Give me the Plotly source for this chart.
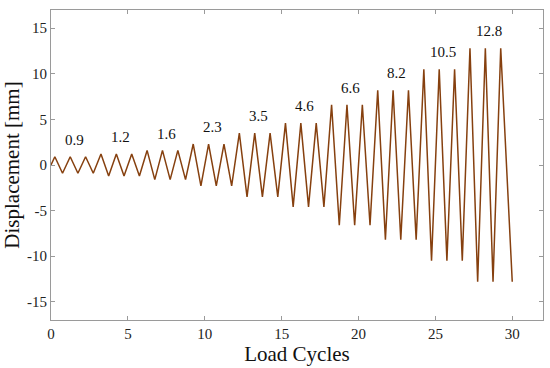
import plotly.graph_objects as go

# Loading protocol: displacement amplitude per group of 3 cycles
amplitudes = [0.9, 1.2, 1.6, 2.3, 3.5, 4.6, 6.6, 8.2, 10.5, 12.8]
label_text = ["0.9", "1.2", "1.6", "2.3", "3.5", "4.6", "6.6", "8.2", "10.5", "12.8"]

cycle_x = [0,
           0.25, 0.75, 1.25, 1.75, 2.25, 2.75,
           3.25, 3.75, 4.25, 4.75, 5.25, 5.75,
           6.25, 6.75, 7.25, 7.75, 8.25, 8.75,
           9.25, 9.75, 10.25, 10.75, 11.25, 11.75,
           12.25, 12.75, 13.25, 13.75, 14.25, 14.75,
           15.25, 15.75, 16.25, 16.75, 17.25, 17.75,
           18.25, 18.75, 19.25, 19.75, 20.25, 20.75,
           21.25, 21.75, 22.25, 22.75, 23.25, 23.75,
           24.25, 24.75, 25.25, 25.75, 26.25, 26.75,
           27.25, 27.75, 28.25, 28.75, 29.25, 30]
displacement = [0,
                0.9, -0.9, 0.9, -0.9, 0.9, -0.9,
                1.2, -1.2, 1.2, -1.2, 1.2, -1.2,
                1.6, -1.6, 1.6, -1.6, 1.6, -1.6,
                2.3, -2.3, 2.3, -2.3, 2.3, -2.3,
                3.5, -3.5, 3.5, -3.5, 3.5, -3.5,
                4.6, -4.6, 4.6, -4.6, 4.6, -4.6,
                6.6, -6.6, 6.6, -6.6, 6.6, -6.6,
                8.2, -8.2, 8.2, -8.2, 8.2, -8.2,
                10.5, -10.5, 10.5, -10.5, 10.5, -10.5,
                12.8, -12.8, 12.8, -12.8, 12.8, -12.8]

x_ticks = [0, 5, 10, 15, 20, 25, 30]
x_tick_labels = ["0", "5", "10", "15", "20", "25", "30"]
y_ticks = [-15, -10, -5, 0, 5, 10, 15]
y_tick_labels = ["-15", "-10", "-5", "0", "5", "10", "15"]

FONT = "Times New Roman"

fig = go.Figure()
fig.add_trace(go.Scatter(x=cycle_x, y=displacement, mode="lines",
                         line=dict(color="#86400f", width=1.5),
                         showlegend=False, hoverinfo="skip"))

for i, (a, t) in enumerate(zip(amplitudes, label_text)):
    fig.add_annotation(x=3 * i + 1.5, y=a + 1.85, text=t, showarrow=False,
                       font=dict(family=FONT, size=15, color="#111"),
                       xanchor="center", yanchor="middle")

axis_common = dict(showline=True, linecolor="#9a9a9a", linewidth=1,
                   mirror="ticks", ticks="inside", ticklen=4,
                   tickcolor="#9a9a9a", showgrid=False, zeroline=False,
                   automargin=False,
                   tickfont=dict(family=FONT, size=15, color="#222"))

fig.update_xaxes(range=[0, 32], tickvals=x_ticks, ticktext=x_tick_labels,
                 title=dict(text="Load Cycles", standoff=2,
                            font=dict(family=FONT, size=21, color="#111")),
                 **axis_common)
fig.update_yaxes(range=[-17, 17], tickvals=y_ticks, ticktext=y_tick_labels,
                 title=dict(text="Displacement [mm]", standoff=6,
                            font=dict(family=FONT, size=21, color="#111")),
                 **axis_common)

fig.update_layout(width=550, height=368,
                  margin=dict(l=51, r=7, t=10, b=48),
                  font=dict(family=FONT),
                  plot_bgcolor="white", paper_bgcolor="white")

fig.write_html("out.html", config={"displayModeBar": False},
               post_script="document.body.style.margin='0';")
